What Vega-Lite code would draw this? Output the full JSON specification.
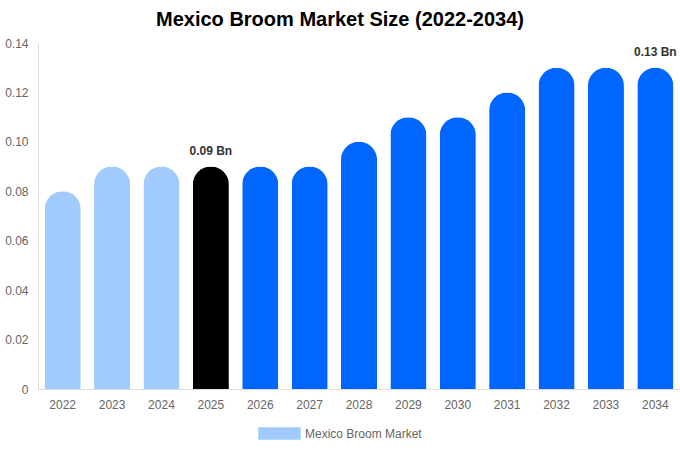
{
  "$schema": "https://vega.github.io/schema/vega-lite/v6.json",
  "autosize": {"type": "none"},
  "padding": {"left": 38, "top": 43, "right": 0, "bottom": 61},
  "width": 642,
  "height": 346,
  "background": "white",
  "title": {
    "text": "Mexico Broom Market Size (2022-2034)",
    "font": "Liberation Sans",
    "fontSize": 20,
    "fontWeight": "bold",
    "color": "#000000",
    "anchor": "middle",
    "dx": -19,
    "offset": 7
  },
  "data": {
    "values": [
      {"year": "2022", "size": 0.08, "group": "Mexico Broom Market", "label": ""},
      {"year": "2023", "size": 0.09, "group": "Mexico Broom Market", "label": ""},
      {"year": "2024", "size": 0.09, "group": "Mexico Broom Market", "label": ""},
      {"year": "2025", "size": 0.09, "group": "Base Year", "label": "0.09 Bn"},
      {"year": "2026", "size": 0.09, "group": "Forecast", "label": ""},
      {"year": "2027", "size": 0.09, "group": "Forecast", "label": ""},
      {"year": "2028", "size": 0.10, "group": "Forecast", "label": ""},
      {"year": "2029", "size": 0.11, "group": "Forecast", "label": ""},
      {"year": "2030", "size": 0.11, "group": "Forecast", "label": ""},
      {"year": "2031", "size": 0.12, "group": "Forecast", "label": ""},
      {"year": "2032", "size": 0.13, "group": "Forecast", "label": ""},
      {"year": "2033", "size": 0.13, "group": "Forecast", "label": ""},
      {"year": "2034", "size": 0.13, "group": "Forecast", "label": "0.13 Bn"}
    ]
  },
  "encoding": {
    "x": {
      "field": "year",
      "type": "ordinal",
      "title": null,
      "scale": {"paddingInner": 0.27, "paddingOuter": 0.135},
      "axis": {
        "labelAngle": 0,
        "labelFont": "Liberation Sans",
        "labelFontSize": 12,
        "labelColor": "#666666",
        "labelPadding": 10,
        "ticks": false,
        "domainColor": "#dddddd",
        "grid": false
      }
    },
    "y": {
      "field": "size",
      "type": "quantitative",
      "title": null,
      "scale": {"domain": [0, 0.14], "nice": false},
      "axis": {
        "values": [0, 0.02, 0.04, 0.06, 0.08, 0.1, 0.12, 0.14],
        "labelExpr": "datum.value == 0 ? '0' : format(datum.value, '.2f')",
        "labelFont": "Liberation Sans",
        "labelFontSize": 12,
        "labelColor": "#666666",
        "labelPadding": 10,
        "ticks": false,
        "domainColor": "#dddddd",
        "grid": false
      }
    }
  },
  "layer": [
    {
      "mark": {"type": "bar", "cornerRadiusTopLeft": 18, "cornerRadiusTopRight": 18},
      "encoding": {
        "color": {
          "field": "group",
          "type": "nominal",
          "scale": {
            "domain": ["Mexico Broom Market", "Base Year", "Forecast"],
            "range": ["#a0cbfc", "#000000", "#0066ff"]
          },
          "legend": {
            "values": ["Mexico Broom Market"],
            "title": null,
            "orient": "none",
            "legendX": 220,
            "legendY": 369,
            "symbolType": "M-1,-0.3H1V0.3H-1Z",
            "symbolSize": 1800,
            "symbolStrokeWidth": 0,
            "labelFont": "Liberation Sans",
            "labelFontSize": 12,
            "labelColor": "#666666",
            "labelOffset": 4
          }
        }
      }
    },
    {
      "mark": {
        "type": "text",
        "dy": -9,
        "baseline": "bottom",
        "font": "Liberation Sans",
        "fontSize": 12,
        "fontWeight": "bold",
        "color": "#333333"
      },
      "encoding": {"text": {"field": "label"}}
    }
  ],
  "config": {"view": {"stroke": null}}
}
